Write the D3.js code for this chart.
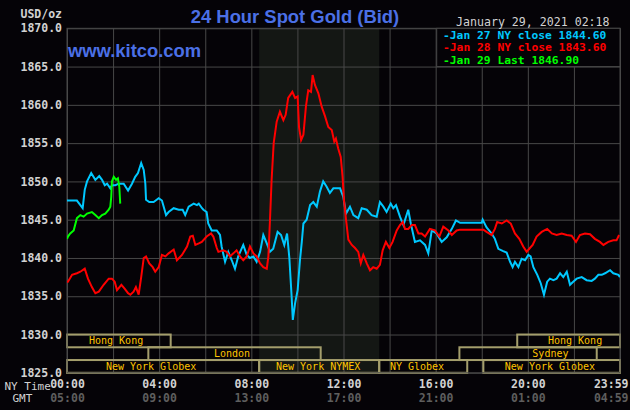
<!DOCTYPE html>
<html><head><meta charset="utf-8">
<script src="https://cdn.jsdelivr.net/npm/d3@7"></script>
<style>
body{margin:0;background:#050307;}
svg{display:block;}
</style></head><body>
<script>
// ---- data (NY time in hours, USD/oz) ----
const jan27Times = [0,0.04,0.43,0.58,0.68,0.77,0.87,1.05,1.23,1.40,1.52,1.64,1.74,1.88,1.95,2.10,2.24,2.36,2.46,2.65,2.82,2.96,3.08,3.22,3.33,3.40,3.43,3.57,3.76,3.98,4.12,4.30,4.41,4.63,4.85,5.02,5.13,5.28,5.50,5.64,5.72,5.86,5.92,6.06,6.13,6.28,6.50,6.64,6.71,6.86,7.00,7.15,7.29,7.43,7.65,7.80,7.94,8.09,8.23,8.38,8.52,8.67,8.81,8.95,9.14,9.29,9.43,9.55,9.65,9.75,9.80,9.90,10.01,10.11,10.19,10.26,10.40,10.55,10.69,10.84,10.98,11.12,11.27,11.41,11.56,11.85,11.99,12.11,12.28,12.43,12.64,12.79,13.01,13.22,13.44,13.58,13.73,13.87,14.05,14.16,14.28,14.45,14.60,14.81,14.92,15.10,15.32,15.54,15.68,15.83,16.04,16.26,16.48,16.70,16.88,17.06,18.00,18.04,18.21,18.43,18.57,18.72,18.93,19.08,19.23,19.34,19.44,19.59,19.73,19.88,20.02,20.12,20.24,20.41,20.56,20.70,20.84,20.96,21.11,21.25,21.40,21.54,21.69,21.83,21.97,22.12,22.34,22.55,22.77,22.91,23.06,23.21,23.35,23.57,23.71,23.93,24.0];
const jan27Values = [1847.5,1847.5,1847.5,1846.9,1846.5,1848.9,1850.0,1851.1,1850.2,1850.7,1850.2,1849.5,1849.7,1849.1,1849.5,1849.5,1849.7,1849.7,1849.7,1848.8,1849.7,1850.6,1851.1,1852.4,1851.5,1849.7,1847.6,1847.3,1847.3,1847.8,1847.5,1845.6,1846.0,1846.5,1846.3,1846.3,1845.6,1846.7,1847.1,1846.9,1847.1,1846.5,1846.3,1846.0,1844.5,1843.6,1843.6,1843.0,1841.5,1839.5,1840.8,1839.7,1838.6,1840.2,1841.7,1840.4,1840.0,1840.2,1839.5,1840.8,1843.0,1841.9,1840.8,1841.2,1843.4,1843.0,1841.7,1843.2,1840.0,1834.9,1831.9,1834.1,1835.8,1839.7,1842.1,1844.5,1845.0,1846.9,1847.3,1846.7,1848.7,1850.0,1849.3,1848.5,1849.1,1849.1,1848.0,1845.8,1846.7,1845.6,1845.2,1846.5,1846.3,1845.6,1845.4,1847.3,1846.7,1846.0,1847.1,1846.5,1846.9,1845.4,1844.3,1846.3,1844.5,1842.1,1842.3,1841.7,1840.6,1843.6,1843.2,1842.1,1842.7,1843.8,1844.9,1844.6,1844.6,1845.0,1844.0,1843.2,1842.5,1841.2,1840.9,1840.7,1839.5,1838.8,1839.5,1838.8,1839.9,1839.7,1840.4,1840.2,1838.8,1837.8,1836.7,1835.2,1836.9,1837.3,1837.1,1837.3,1838.0,1837.5,1838.2,1836.5,1836.9,1837.3,1837.5,1837.1,1837.0,1837.3,1837.8,1837.8,1838.0,1838.4,1838.0,1837.8,1837.5];

const jan28Times = [0,0.04,0.22,0.43,0.58,0.77,0.91,1.08,1.23,1.38,1.59,1.81,1.95,2.07,2.17,2.36,2.50,2.65,2.75,2.89,2.99,3.11,3.22,3.33,3.43,3.57,3.72,3.83,3.98,4.12,4.27,4.41,4.63,4.77,4.99,5.21,5.35,5.46,5.57,5.72,5.85,6.06,6.25,6.35,6.50,6.57,6.78,6.93,7.07,7.22,7.36,7.51,7.65,7.80,7.94,8.09,8.23,8.38,8.52,8.67,8.74,8.81,8.88,8.97,9.10,9.24,9.39,9.49,9.60,9.78,9.90,10.01,10.07,10.16,10.26,10.37,10.47,10.59,10.66,10.76,10.91,11.05,11.20,11.34,11.49,11.60,11.67,11.77,11.88,11.96,12.02,12.11,12.21,12.36,12.50,12.64,12.75,12.86,13.01,13.15,13.29,13.44,13.58,13.70,13.84,13.99,14.13,14.31,14.45,14.57,14.67,14.81,14.96,15.10,15.25,15.39,15.54,15.75,15.97,16.16,16.33,16.55,16.70,16.91,17.06,18.07,18.21,18.43,18.57,18.67,18.87,19.08,19.26,19.44,19.63,19.80,19.95,20.09,20.21,20.38,20.60,20.84,21.04,21.25,21.47,21.69,21.90,22.09,22.26,22.48,22.70,22.91,23.13,23.28,23.49,23.71,23.85,23.96];
const jan28Values = [1836.9,1836.9,1837.8,1838.0,1838.2,1838.6,1837.3,1836.2,1835.4,1835.6,1836.5,1837.3,1837.3,1836.9,1835.8,1836.5,1836.0,1835.4,1835.2,1835.6,1836.2,1835.2,1837.5,1840.0,1840.2,1839.3,1838.8,1838.2,1838.8,1840.4,1840.2,1840.6,1841.1,1839.7,1840.4,1841.5,1842.8,1842.9,1841.7,1841.9,1842.1,1842.8,1843.2,1842.8,1841.3,1840.8,1841.0,1840.8,1840.2,1840.6,1841.0,1840.2,1839.7,1840.2,1841.5,1840.6,1840.2,1839.3,1838.8,1838.6,1840.2,1845.0,1850.2,1855.0,1857.8,1859.1,1858.0,1858.7,1860.9,1861.7,1860.9,1861.1,1857.1,1855.4,1856.1,1859.8,1861.9,1861.7,1863.9,1862.6,1861.5,1859.8,1858.5,1857.1,1856.7,1855.2,1855.6,1854.3,1853.2,1850.6,1847.6,1845.0,1842.4,1841.7,1841.3,1840.8,1839.3,1840.4,1839.3,1838.4,1838.8,1838.6,1839.1,1841.0,1842.1,1841.3,1842.1,1843.6,1844.3,1844.7,1843.8,1843.8,1844.3,1844.3,1843.2,1843.2,1842.8,1843.8,1843.6,1842.8,1844.1,1843.6,1843.0,1843.6,1843.7,1843.7,1843.4,1843.0,1843.8,1844.7,1844.5,1844.9,1844.5,1843.2,1842.5,1841.5,1840.8,1841.3,1841.7,1842.8,1843.4,1843.8,1843.2,1843.0,1843.2,1843.0,1842.9,1842.1,1843.0,1843.2,1843.1,1842.5,1842.1,1841.7,1842.1,1842.3,1842.3,1843.0];

const jan29Times = [0,0.04,0.14,0.29,0.43,0.58,0.72,0.87,1.08,1.23,1.38,1.52,1.66,1.81,1.88,1.92,1.95,2.03,2.13,2.21,2.27,2.31];
const jan29Values = [1842.5,1842.8,1843.2,1843.6,1845.2,1845.6,1845.4,1845.8,1846.0,1845.6,1845.2,1845.6,1845.8,1846.3,1846.7,1848.0,1850.0,1850.6,1850.2,1850.4,1849.3,1847.1];

const legendLabels = ["-Jan 27 NY close 1844.60", "-Jan 28 NY close 1843.60", "-Jan 29 Last 1846.90"];
const yTicks = [1825,1830,1835,1840,1845,1850,1855,1860,1865,1870];
const tickHours = [0,4,8,12,16,20,24];
const nyTimeLabels = ["00:00","04:00","08:00","12:00","16:00","20:00","23:59"];
const gmtLabels = ["05:00","09:00","13:00","17:00","21:00","01:00","04:59"];
const nymexSpan = [8.34, 13.55];

const sessionNames = ["Hong Kong","Hong Kong","London","Sydney","New York Globex","New York NYMEX","NY Globex","New York Globex"];
const sessionStarts = [0,19.54,3.53,17.03,0,8.34,13.55,18.07];
const sessionEnds   = [4.50,24,11.01,22.99,8.34,13.55,17.37,24];
const sessionRows   = [0,0,1,1,2,2,2,2];
const sessionLabelAt= [2.13,22.05,7.16,20.98,3.65,10.9,15.19,20.96];

// ---- drawing ----
const W = 630, H = 410;
const L = 67, R = 620, T = 28.3, B = 372.8;
const svg = d3.select("body").append("svg").attr("width", W).attr("height", H);
svg.append("rect").attr("width", W).attr("height", H).attr("fill", "#050307");

const x = d3.scaleLinear().domain([0, 24]).range([L, R]);
const y = d3.scaleLinear().domain([1825, 1870]).range([B, T]);
const mono = "'DejaVu Sans Mono', monospace";
const gridCol = "#484848";

// NYMEX shading
svg.append("rect").attr("x", x(nymexSpan[0])).attr("y", T)
  .attr("width", x(nymexSpan[1]) - x(nymexSpan[0])).attr("height", B - T)
  .attr("fill", "#141714");

// horizontal grid + y labels
const gy = svg.append("g").attr("transform", `translate(${L},0)`)
  .call(d3.axisLeft(y).tickValues(yTicks).tickSize(-(R - L)).tickPadding(5).tickFormat(d => d.toFixed(1)));
gy.select(".domain").remove();
gy.selectAll("line").attr("stroke", gridCol);
gy.selectAll("text").attr("fill", "#d2d2d2").attr("font-family", mono).attr("font-weight", "bold").attr("font-size", "11.5px");

// vertical grid
const gx = svg.append("g").attr("transform", `translate(0,${B})`)
  .call(d3.axisBottom(x).tickValues(d3.range(0, 25, 2)).tickSize(-(B - T)).tickFormat(""));
gx.select(".domain").remove();
gx.selectAll("line").attr("stroke", gridCol);

// session bars
const rowH = (y(1825) - y(1830)) / 3;
const sess = svg.append("g");
sessionNames.forEach((n, i) => {
  const top = y(1830) + sessionRows[i] * rowH;
  sess.append("rect").attr("x", x(sessionStarts[i])).attr("y", top)
    .attr("width", x(sessionEnds[i]) - x(sessionStarts[i])).attr("height", rowH)
    .attr("fill", "none").attr("stroke", "#a49e6c").attr("stroke-width", 2);
});
sessionNames.forEach((n, i) => {
  const top = y(1830) + sessionRows[i] * rowH;
  sess.append("text").attr("x", x(sessionLabelAt[i])).attr("y", top + 9.6)
    .attr("text-anchor", "middle").attr("fill", "#ffc400")
    .attr("font-family", mono).attr("font-size", "10px").text(n);
});

// plot border
svg.append("rect").attr("x", L).attr("y", T).attr("width", R - L).attr("height", B - T)
  .attr("fill", "none").attr("stroke", gridCol);

// series
const line = d3.line().x(d => x(d[0])).y(d => y(d[1]));
const series = [
  {t: jan27Times, v: jan27Values, c: "#00c8ff"},
  {t: jan28Times, v: jan28Values, c: "#ff0000"},
  {t: jan29Times, v: jan29Values, c: "#00ff00"}
];
svg.append("clipPath").attr("id", "clip").append("rect")
  .attr("x", L).attr("y", T).attr("width", R - L).attr("height", B - T);
series.forEach(s => {
  svg.append("path").datum(s.t.map((t, i) => [t, s.v[i]]))
    .attr("d", line).attr("fill", "none").attr("stroke", s.c)
    .attr("stroke-width", 2).attr("stroke-linejoin", "miter")
    .attr("clip-path", "url(#clip)");
});

// legend
const lx = 436.7, ly = T, lw = R - 436.7, lh = y(1865) - T;
svg.append("rect").attr("x", lx).attr("y", ly).attr("width", lw).attr("height", lh)
  .attr("fill", "#050307").attr("stroke", gridCol);
legendLabels.forEach((lab, i) => {
  svg.append("text").attr("x", 443).attr("y", [39.3, 51.3, 64][i])
    .attr("fill", series[i].c).attr("font-family", mono).attr("font-weight", "bold")
    .attr("font-size", "11.3px").text(lab);
});

// titles
svg.append("text").attr("x", 295).attr("y", 23).attr("text-anchor", "middle")
  .attr("fill", "#4b70e6").attr("font-family", "'Liberation Sans', Arial, sans-serif")
  .attr("font-weight", "bold").attr("font-size", "18.4px").text("24 Hour Spot Gold (Bid)");
svg.append("text").attr("x", 68).attr("y", 57)
  .attr("fill", "#4b70e6").attr("font-family", "'Liberation Sans', Arial, sans-serif")
  .attr("font-weight", "bold").attr("font-size", "18.4px").text("www.kitco.com");
svg.append("text").attr("x", 62).attr("y", 17.5).attr("text-anchor", "end")
  .attr("fill", "#d2d2d2").attr("font-family", mono).attr("font-weight", "bold")
  .attr("font-size", "11.5px").text("USD/oz");
svg.append("text").attr("x", 456).attr("y", 25.5)
  .attr("fill", "#d2d2d2").attr("font-family", mono)
  .attr("font-size", "11.6px").text("January 29, 2021 02:18");

// bottom time axes
svg.append("text").attr("x", 4.5).attr("y", 390).attr("fill", "#d2d2d2")
  .attr("font-family", mono).attr("font-size", "11px").text("NY Time");
svg.append("text").attr("x", 12.5).attr("y", 402).attr("fill", "#d2d2d2")
  .attr("font-family", mono).attr("font-size", "11px").text("GMT");

function timeAxis(labels, yPos, col) {
  const g = svg.append("g").attr("transform", `translate(0,${yPos})`)
    .call(d3.axisBottom(x).tickValues(tickHours).tickSize(0).tickPadding(0)
      .tickFormat((d, i) => labels[i]));
  g.select(".domain").remove();
  g.selectAll("text").attr("fill", col).attr("font-family", mono).attr("font-weight", "bold")
    .attr("font-size", "11.5px").attr("dy", null)
    .attr("text-anchor", (d, i) => i === tickHours.length - 1 ? "end" : "middle")
    .attr("x", (d, i) => i === tickHours.length - 1 ? (W - 2) - R : 0);
}
timeAxis(nyTimeLabels, 388, "#d2d2d2");
timeAxis(gmtLabels, 402, "#5e5e5e");
</script>
</body></html>
